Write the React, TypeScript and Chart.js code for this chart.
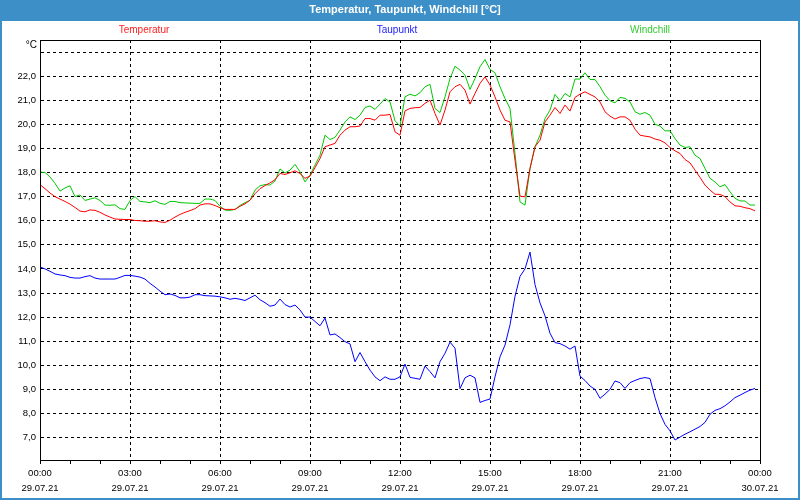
import React, { useEffect, useRef } from 'react';
import { Chart, registerables } from 'chart.js';

Chart.register(...registerables);

const TITLE = 'Temperatur, Taupunkt, Windchill [°C]';
const UNIT_LABEL = '°C';
const SERIES_NAMES = ['Temperatur', 'Taupunkt', 'Windchill'];
const LINE_COLORS = ['#ff0000', '#0000ff', '#00c800'];
const LEGEND_COLORS = ['#ff2020', '#2020ff', '#33cc33'];

const TICK_TIMES = ['00:00', '03:00', '06:00', '09:00', '12:00', '15:00', '18:00', '21:00', '00:00'];
const TICK_DATES = ['29.07.21', '29.07.21', '29.07.21', '29.07.21', '29.07.21', '29.07.21', '29.07.21', '29.07.21', '30.07.21'];
const Y_TICKS = [7, 8, 9, 10, 11, 12, 13, 14, 15, 16, 17, 18, 19, 20, 21, 22, 23];
const Y_UNLABELED = [23];
const Y_MIN = 6.07;
const Y_MAX = 23.5;

// 10-minute samples, 00:00 .. 23:50
const temperatur = [
  17.5, 17.33, 17.15, 17.0, 16.9, 16.8, 16.69, 16.55, 16.4, 16.37,
  16.45, 16.43, 16.35, 16.24, 16.15, 16.07, 16.06, 16.05, 16.05, 16.01,
  16.0, 15.98, 15.98, 16.0, 15.95, 15.93, 16.02, 16.15, 16.26, 16.35,
  16.42, 16.5, 16.65, 16.7, 16.7, 16.63, 16.54, 16.47, 16.47, 16.47,
  16.6, 16.7, 16.85, 17.12, 17.33, 17.46, 17.57, 17.7, 17.96, 17.92,
  17.99, 18.07, 17.96, 17.76, 17.85, 18.2, 18.58, 19.07, 19.14, 19.21,
  19.55, 19.76, 19.9, 19.9, 19.93, 20.24, 20.24, 20.17, 20.38, 20.38,
  20.41, 19.69, 19.55, 20.56, 20.66, 20.69, 20.7, 20.87, 21.0, 20.45,
  19.97, 20.59, 21.35, 21.56, 21.66, 21.42, 20.84, 21.28, 21.7, 21.97,
  21.63, 21.14, 20.59, 20.17, 20.1, 18.51, 17.02, 16.99, 18.17, 19.07,
  19.34, 20.1, 20.38, 20.7, 20.45, 20.8, 20.55, 21.12, 21.25, 21.35,
  21.24, 21.14, 20.93, 20.52, 20.34, 20.22, 20.31, 20.31, 20.17, 19.8,
  19.55, 19.51, 19.48, 19.39, 19.34, 19.23, 19.04, 18.9, 18.79, 18.54,
  18.4, 18.1, 17.8, 17.48, 17.27, 17.1, 17.09, 17.0, 16.78, 16.62,
  16.6, 16.54, 16.5, 16.41,
];

const taupunkt = [
  14.08, 14.0, 13.9, 13.79, 13.75, 13.72, 13.65, 13.62, 13.62, 13.68,
  13.72, 13.62, 13.58, 13.58, 13.58, 13.58, 13.65, 13.73, 13.73, 13.7,
  13.66, 13.58, 13.4, 13.25, 13.08, 12.93, 12.96, 12.9, 12.8, 12.8,
  12.83, 12.93, 12.93, 12.89, 12.88, 12.87, 12.84, 12.8, 12.74, 12.78,
  12.74, 12.69, 12.8, 12.91, 12.72, 12.6, 12.45, 12.5, 12.75, 12.52,
  12.42, 12.5, 12.3, 12.0, 12.0, 11.82, 11.64, 11.96, 11.26, 11.3,
  11.15, 10.98, 10.89, 10.15, 10.53, 10.15, 9.8, 9.52, 9.36, 9.52,
  9.42, 9.42, 9.52, 10.05, 9.5, 9.46, 9.42, 9.97, 9.74, 9.48,
  10.15, 10.5, 10.96, 10.71, 9.03, 9.48, 9.59, 9.48, 8.46, 8.54,
  8.6, 9.52, 10.35, 10.84, 11.68, 12.86, 13.69, 14.0, 14.7, 13.35,
  12.59, 12.05, 11.33, 10.94, 10.9, 10.8, 10.67, 10.8, 9.55, 9.37,
  9.14, 9.0, 8.63, 8.8, 9.0, 9.35, 9.28, 9.04, 9.28, 9.37,
  9.45, 9.49, 9.45, 8.66, 8.0, 7.55, 7.28, 6.9, 7.02, 7.14,
  7.24, 7.35, 7.46, 7.63, 7.97, 8.13, 8.2, 8.32, 8.48, 8.66,
  8.76, 8.87, 8.97, 9.04,
];

const windchill = [
  18.02, 18.0, 17.82, 17.55, 17.23, 17.36, 17.45, 17.0, 17.07, 16.84,
  16.9, 16.95, 16.84, 16.65, 16.64, 16.66, 16.5, 16.47, 16.84, 17.0,
  16.8, 16.78, 16.75, 16.83, 16.72, 16.68, 16.8, 16.8, 16.75, 16.74,
  16.73, 16.72, 16.72, 16.9, 16.9, 16.84, 16.6, 16.44, 16.43, 16.47,
  16.63, 16.75, 16.85, 17.27, 17.45, 17.5, 17.48, 17.65, 18.15, 17.98,
  18.1, 18.34, 18.03, 17.61, 17.89, 18.31, 18.72, 19.55, 19.37, 19.46,
  19.76, 20.1, 20.31, 20.2, 20.38, 20.7, 20.76, 20.62, 20.84, 21.07,
  20.93, 20.15, 19.93, 21.14, 21.25, 21.18, 21.31, 21.56, 21.66, 20.66,
  20.49, 21.14, 21.9, 22.41, 22.25, 22.04, 21.45, 21.9, 22.39, 22.69,
  22.28, 22.14, 21.56, 21.07, 20.66, 18.79, 16.78, 16.65, 18.17, 19.07,
  19.55, 20.24, 20.59, 21.24, 20.98, 21.28, 21.14, 21.88, 21.88, 22.14,
  21.86, 21.86, 21.56, 21.21, 20.98, 20.89, 21.12, 21.08, 20.93, 20.52,
  20.42, 20.49, 20.38, 20.0, 19.93, 19.73, 19.73, 19.41, 19.14, 19.04,
  19.07, 18.72, 18.58, 18.17, 17.76, 17.61, 17.41, 17.5, 17.2, 16.93,
  16.82, 16.82, 16.65, 16.65,
];

const SAMPLE_MINUTES = 10;
const SLOT_COUNT = 145; // 00:00 .. next day 00:00
const SLOTS_PER_LABEL = 18; // every 3 hours
const SLOTS_PER_MINOR = 6; // every hour

const timeLabels = Array.from({ length: SLOT_COUNT }, (_, i) => {
  const m = i * SAMPLE_MINUTES;
  const hh = Math.floor(m / 60) % 24;
  const mm = m % 60;
  return `${String(hh).padStart(2, '0')}:${String(mm).padStart(2, '0')}`;
});

const FONT = '"Liberation Sans", Arial, sans-serif';
const BAR_BLUE = '#3d8fc7';

const decorPlugin = {
  id: 'decor',
  beforeDraw(chart: any) {
    const { ctx, width, height } = chart;
    ctx.save();
    ctx.fillStyle = '#ffffff';
    ctx.fillRect(0, 0, width, height);
    ctx.fillStyle = BAR_BLUE;
    ctx.fillRect(0, 0, width, 21);
    ctx.fillStyle = '#ffffff';
    ctx.font = `bold 11px ${FONT}`;
    ctx.textAlign = 'center';
    ctx.textBaseline = 'middle';
    ctx.fillText(TITLE, 405, 10);
    ctx.font = `10px ${FONT}`;
    const legendX = [144, 397, 650];
    SERIES_NAMES.forEach((name, i) => {
      ctx.fillStyle = LEGEND_COLORS[i];
      ctx.fillText(name, legendX[i], 30);
    });
    ctx.fillStyle = '#000000';
    ctx.textAlign = 'right';
    ctx.fillText(UNIT_LABEL, 37, 45);
    ctx.restore();
  },
  afterDraw(chart: any) {
    const { ctx, chartArea: a, width, height } = chart;
    ctx.save();
    ctx.strokeStyle = '#000000';
    ctx.lineWidth = 1;
    ctx.setLineDash([]);
    ctx.strokeRect(
      Math.round(a.left) + 0.5,
      Math.round(a.top) + 0.5,
      Math.round(a.right - a.left),
      Math.round(a.bottom - a.top)
    );
    ctx.strokeStyle = BAR_BLUE;
    ctx.lineWidth = 2;
    ctx.strokeRect(1, 1, width - 2, height - 2);
    ctx.restore();
  },
};

export default function App() {
  const ref = useRef<HTMLCanvasElement | null>(null);

  useEffect(() => {
    if (!ref.current) return;
    const chart = new Chart(ref.current, {
      type: 'line',
      data: {
        labels: timeLabels,
        datasets: [
          { label: SERIES_NAMES[0], data: temperatur, borderColor: LINE_COLORS[0] },
          { label: SERIES_NAMES[1], data: taupunkt, borderColor: LINE_COLORS[1] },
          { label: SERIES_NAMES[2], data: windchill, borderColor: LINE_COLORS[2] },
        ].map((d) => ({ ...d, borderWidth: 1, pointRadius: 0, tension: 0, fill: false })),
      },
      options: {
        animation: false,
        responsive: false,
        events: [],
        layout: { padding: { top: 40, right: 40, bottom: 0, left: 0 } },
        plugins: {
          legend: { display: false },
          title: { display: false },
          tooltip: { enabled: false },
        },
        scales: {
          x: {
            type: 'category',
            offset: false,
            afterFit: (s: any) => {
              s.height = 40;
            },
            grid: {
              color: (c: any) => (c.index % SLOTS_PER_LABEL === 0 ? '#000000' : 'rgba(0,0,0,0)'),
              tickColor: (c: any) => (c.index % SLOTS_PER_MINOR === 0 ? '#000000' : 'rgba(0,0,0,0)'),
              lineWidth: 1,
              tickLength: 4,
              offset: false,
            },
            border: { display: true, color: '#000000', width: 1, dash: [3, 3] },
            ticks: {
              autoSkip: false,
              maxRotation: 0,
              minRotation: 0,
              padding: 2,
              color: '#000000',
              font: { family: FONT, size: 9.5, lineHeight: '15px' },
              callback: (_v: any, idx: number) =>
                idx % SLOTS_PER_LABEL === 0
                  ? [TICK_TIMES[idx / SLOTS_PER_LABEL], TICK_DATES[idx / SLOTS_PER_LABEL]]
                  : '',
            },
          },
          y: {
            type: 'linear',
            min: Y_MIN,
            max: Y_MAX,
            afterFit: (s: any) => {
              s.width = 40;
            },
            afterBuildTicks: (s: any) => {
              s.ticks = Y_TICKS.map((v) => ({ value: v }));
            },
            grid: { color: '#000000', lineWidth: 1, drawTicks: false },
            border: { display: true, color: '#000000', width: 1, dash: [3, 3] },
            ticks: {
              padding: 4,
              color: '#000000',
              font: { family: FONT, size: 9.5 },
              callback: (v: any) =>
                Y_UNLABELED.includes(Number(v)) ? '' : Number(v).toFixed(1).replace('.', ','),
            },
          },
        },
      },
      plugins: [decorPlugin],
    } as any);
    return () => chart.destroy();
  }, []);

  return (
    <div style={{ position: 'absolute', left: 0, top: 0, width: 800, height: 500 }}>
      <canvas ref={ref} width={800} height={500} style={{ display: 'block' }} />
    </div>
  );
}
